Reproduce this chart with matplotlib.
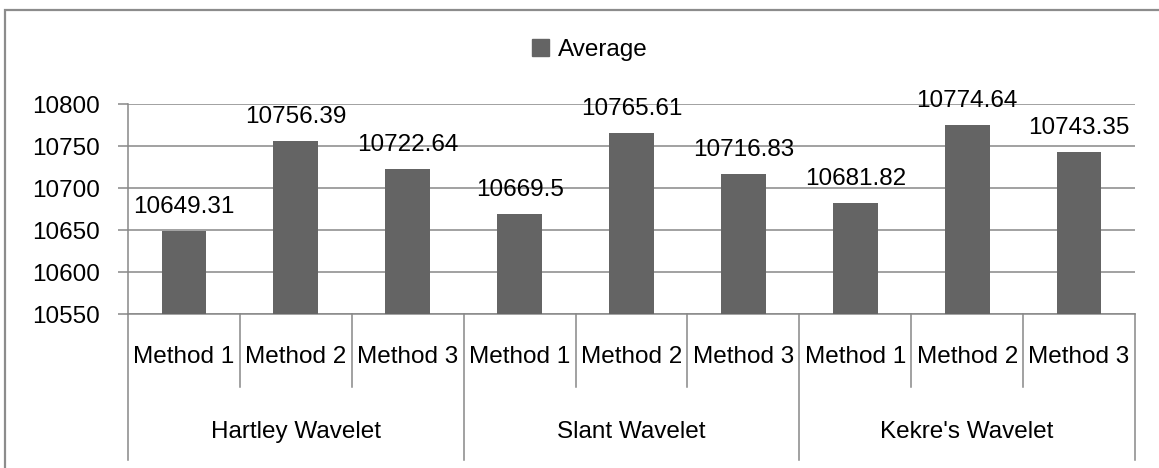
import matplotlib
matplotlib.use("Agg")
import matplotlib.pyplot as plt
from matplotlib.patches import Rectangle, Patch
from matplotlib.transforms import blended_transform_factory

# chart data
groups = ["Hartley Wavelet", "Slant Wavelet", "Kekre's Wavelet"]
methods = ["Method 1", "Method 2", "Method 3"]
average = [10649.31, 10756.39, 10722.64,
           10669.5, 10765.61, 10716.83,
           10681.82, 10774.64, 10743.35]
value_labels = ["10649.31", "10756.39", "10722.64",
                "10669.5", "10765.61", "10716.83",
                "10681.82", "10774.64", "10743.35"]
y_ticks = [10550, 10600, 10650, 10700, 10750, 10800]

plt.rcParams["font.family"] = ["Liberation Sans", "DejaVu Sans"]
FS = 17.5
BAR = "#646464"
GRID = "#888888"

W, H = 1159, 468
fig = plt.figure(figsize=(W / 100, H / 100), dpi=100)

# outer chart frame (extends past right/bottom edge like the source)
fig.patches.append(Rectangle((5 / W, -0.05), 1.1, 1 - 10 / H + 0.05,
                             transform=fig.transFigure, fill=False,
                             edgecolor="#8c8c8c", linewidth=1.6))

ax = fig.add_axes([128 / W, 1 - 314 / H, (1135 - 128) / W, (314 - 104) / H])

x = list(range(len(average)))
bars = ax.bar(x, [v - y_ticks[0] for v in average], bottom=y_ticks[0],
              width=0.4, color=BAR, zorder=3)

for xi, v, lab in zip(x, average, value_labels):
    ax.annotate(lab, (xi, v), xytext=(0, 13), textcoords="offset points",
                ha="center", va="baseline", fontsize=FS, color="black", zorder=4)

ax.set_xlim(-0.5, len(average) - 0.5)
ax.set_ylim(y_ticks[0], y_ticks[-1])
ax.set_yticks(y_ticks)
ax.set_yticklabels([str(t) for t in y_ticks], fontsize=FS)
ax.yaxis.grid(True, color=GRID, linewidth=1.1, zorder=0)
ax.tick_params(axis="y", length=7.2, width=1.1, color=GRID, pad=13)
ax.set_xticks([])
for s in ["top", "right"]:
    ax.spines[s].set_visible(False)
for s in ["left", "bottom"]:
    ax.spines[s].set_color(GRID)
    ax.spines[s].set_linewidth(1.1)

# two-level category axis
tr = blended_transform_factory(ax.transData, ax.transAxes)
ph = 314 - 104
method_depth = -(387 - 314) / ph
group_depth = -(460 - 314) / ph
n = len(methods)
for i in range(len(average) + 1):
    depth = group_depth if i % n == 0 else method_depth
    ax.plot([i - 0.5, i - 0.5], [0, depth], transform=tr, color=GRID,
            linewidth=1.1, clip_on=False)
for i in x:
    ax.text(i, -(357 - 314) / ph, methods[i % n], transform=tr,
            ha="center", va="center", fontsize=FS)
for g, name in enumerate(groups):
    ax.text(g * n + (n - 1) / 2, -(432 - 314) / ph, name, transform=tr,
            ha="center", va="center", fontsize=FS)

fig.legend(handles=[Patch(color=BAR, label="Average")], loc="center",
           bbox_to_anchor=(590 / W, 1 - 50 / H), frameon=False, fontsize=FS,
           handlelength=0.7, handleheight=0.7, handletextpad=0.35)

fig.savefig("out.png", dpi=100)
